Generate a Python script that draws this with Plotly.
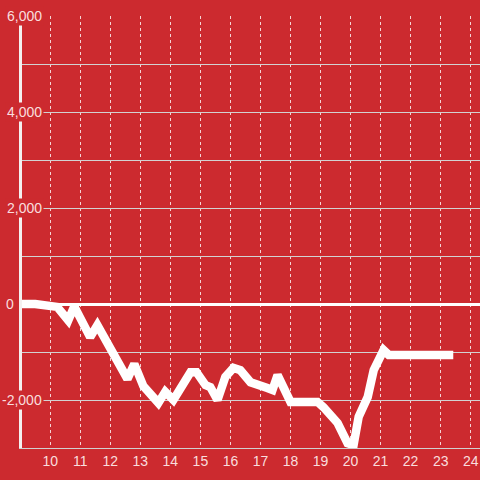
import plotly.graph_objects as go

# Data (hour of day vs value)
hours = [9.05, 9.5, 10.23, 10.6, 10.8, 11.33, 11.57, 12.0, 12.33, 12.57, 12.8, 13.1,
         13.6, 13.83, 14.1, 14.67, 14.87, 15.17, 15.33, 15.57, 15.83, 16.1, 16.33,
         16.67, 17.23, 17.4, 17.57, 18.0, 18.9, 19.1, 19.57, 19.9, 20.1, 20.27,
         20.57, 20.77, 21.1, 21.27, 23.42]
values = [0, 0, -60, -340, -50, -690, -440, -900, -1330, -1560, -1250, -1710,
          -2060, -1830, -2000, -1420, -1420, -1690, -1730, -2000, -1520, -1330, -1380,
          -1630, -1750, -1790, -1480, -2040, -2040, -2150, -2480, -2900, -2940, -2350,
          -1940, -1380, -960, -1060, -1060]

x_ticks = list(range(10, 25))
y_label_vals = [6000, 4000, 2000, 0, -2000]
y_label_text = ["6,000", "4,000", "2,000", "0", "-2,000"]

RED = "#cc2a2f"
TXT = "rgba(255,240,240,0.92)"

fig = go.Figure()
fig.add_trace(go.Scatter(x=hours, y=values, mode="lines",
                         line=dict(color="white", width=8.5),
                         hoverinfo="skip", showlegend=False))

fig.update_layout(
    width=480, height=480,
    paper_bgcolor=RED, plot_bgcolor=RED,
    margin=dict(l=22, r=0, t=16, b=32),
    font=dict(family="Liberation Sans, Arial, sans-serif", size=14, color=TXT),
    xaxis=dict(range=[9.06, 24.31], tickvals=x_ticks, ticktext=[str(v) for v in x_ticks],
               showgrid=True, gridcolor="rgba(255,255,255,0.8)", gridwidth=1, griddash="dot",
               showline=True, linecolor="#d0d0d0", linewidth=1,
               ticks="", zeroline=False, tickfont=dict(size=14, color=TXT)),
    yaxis=dict(range=[-3000, 6000], dtick=1000, tick0=0, showticklabels=False,
               showgrid=True, gridcolor="#d2d2d2", gridwidth=1,
               zeroline=True, zerolinecolor="white", zerolinewidth=3,
               showline=True, linecolor="#f4f0f0", linewidth=3, ticks=""),
)

for v, t in zip(y_label_vals, y_label_text):
    right_px = 15 if v == 0 else 43
    fig.add_annotation(x=0, xref="paper", y=v, yref="y", text=t, showarrow=False,
                       xanchor="right", yanchor="middle", xshift=right_px - 22 + 1,
                       bgcolor=RED if v != 0 else "rgba(0,0,0,0)", borderpad=1,
                       font=dict(size=14, color=TXT))

fig.write_html("out.html", config={"displayModeBar": False},
               post_script="document.body.style.margin='0';document.body.style.padding='0';")
